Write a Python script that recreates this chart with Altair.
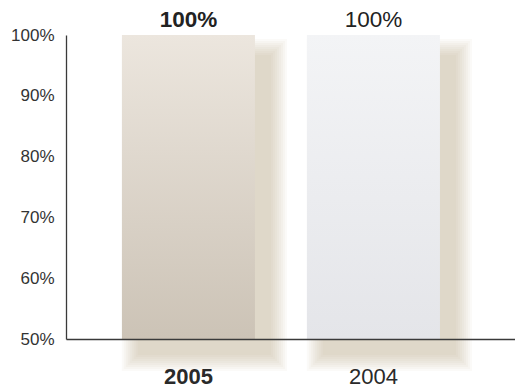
import altair as alt
import pandas as pd

# Share of total, by year
years = ["2005", "2004"]
shares = [100, 100]
share_labels = ["100%", "100%"]
label_weights = ["bold", "normal"]

y_ticks = [50, 60, 70, 80, 90, 100]
y_floor = 50

df = pd.DataFrame({
    "year": years,
    "share": shares,
    "label": share_labels,
    "weight": label_weights,
    "floor": [y_floor] * len(years),
})

FONT = "Liberation Sans"
BAND_PX = 133  # approximate bar width, used to widen the shadow copies


def vgrad(top, bottom):
    return alt.Gradient(
        gradient="linear",
        stops=[alt.GradientStop(color=top, offset=0), alt.GradientStop(color=bottom, offset=1)],
        x1=0, x2=0, y1=0, y2=1,
    )


x_enc = alt.X(
    "year:N",
    sort=years,
    title=None,
    scale=alt.Scale(paddingInner=0.281, paddingOuter=0.354, align=0.427),
    axis=alt.Axis(
        domainColor="#3a3a3a", domainWidth=1.3, ticks=False, tickSize=0,
        labelAngle=0, labelFont=FONT, labelFontSize=22, labelColor="#2a2a2a",
        labelFontWeight=alt.expr("datum.value == '2005' ? 'bold' : 'normal'"),
        labelBaseline="alphabetic", labelPadding=44, zindex=2,
    ),
)

y_scale = alt.Scale(domain=[50, 100], nice=False, zero=False)
y_enc = alt.Y(
    "share:Q",
    title=None,
    scale=y_scale,
    axis=alt.Axis(
        values=y_ticks, labelExpr="datum.value + '%'", grid=False,
        ticks=False, tickSize=0, domainColor="#3a3a3a", domainWidth=1.3,
        labelFont=FONT, labelFontSize=17, labelColor="#333333",
        labelPadding=12, zindex=2,
    ),
)

base = alt.Chart(df)

# soft drop shadow: several faint, progressively larger copies of each bar,
# shifted down and to the right
shadow_layers = []
for k in range(9):
    grow = 2 * k
    shadow_layers.append(
        base.mark_bar(
            width=alt.RelativeBandSize(1 + 2 * grow / BAND_PX),
            xOffset=16,
            yOffset=20 - grow,
            y2Offset=16 + grow,
            color="#b3a185",
            opacity=0.055,
        ).encode(x=x_enc, y=y_enc, y2="floor:Q")
    )

bar_2005 = base.transform_filter(alt.datum.year == "2005").mark_bar(
    width=alt.RelativeBandSize(1),
    color=vgrad("#ece6de", "#ccc3b6"),
).encode(x=x_enc, y=y_enc, y2="floor:Q")

bar_2004 = base.transform_filter(alt.datum.year == "2004").mark_bar(
    width=alt.RelativeBandSize(1),
    color=vgrad("#f3f4f6", "#e4e5e9"),
).encode(x=x_enc, y=y_enc, y2="floor:Q")

value_labels = base.mark_text(
    font=FONT, fontSize=22.5, baseline="alphabetic", dy=-8, color="#222222",
    fontWeight=alt.expr("datum.weight"),
).encode(
    x=x_enc,
    y=y_enc,
    text="label:N",
)

chart = (
    alt.layer(*shadow_layers, bar_2005, bar_2004, value_labels)
    .properties(
        width=449,
        height=304,
        autosize=alt.AutoSizeParams(type="none"),
        padding={"left": 66, "top": 35, "right": 0, "bottom": 48},
        background="white",
    )
    .configure_view(stroke=None)
)

chart.save("out.html", embed_options={"renderer": "svg", "actions": False})
